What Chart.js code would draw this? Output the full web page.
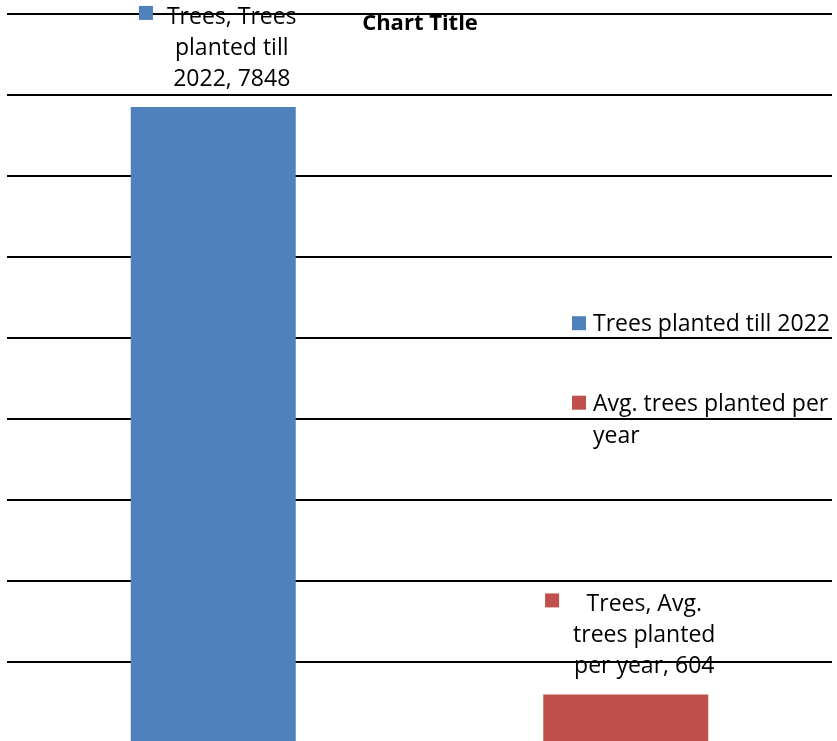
<!DOCTYPE html>
<html>
<head>
<meta charset="utf-8">
<script src="https://cdn.jsdelivr.net/npm/chart.js@4.4.1/dist/chart.umd.min.js"></script>
<style>
  html, body { margin: 0; padding: 0; overflow: hidden; background: #fff; }
  #wrap { position: relative; width: 837px; height: 760px; }
</style>
</head>
<body>
<div id="wrap"><canvas id="c"></canvas></div>
<script>
// Chart data
const categories = ['Trees'];
const seriesNames = ['Trees planted till 2022', 'Avg. trees planted per year'];
const treesPlantedTill2022 = [7848];
const avgTreesPlantedPerYear = [604];
const seriesColors = ['#4F81BD', '#C0504D'];
const chartTitle = 'Chart Title';
const yMin = 0, yMax = 9000, yStep = 1000;

// Text styling
const FONT_FAMILY = '"Open Sans", "Noto Sans", sans-serif';
const TEXT_SIZE = 23;
const LINE_H = 31;
const CAP_HALF = 8;        // half cap height, to place baselines by cap centre
const SWATCH = 14;

function wrapText(ctx, text, maxW) {
  const words = text.split(' ');
  const lines = [];
  let cur = '';
  for (const w of words) {
    const test = cur ? cur + ' ' + w : w;
    if (cur && ctx.measureText(test).width > maxW) {
      lines.push(cur);
      cur = w;
    } else {
      cur = test;
    }
  }
  if (cur) lines.push(cur);
  return lines;
}

// Value labels above each bar, with the series key in front
const barLabels = {
  id: 'barLabels',
  afterDatasetsDraw(chart) {
    const ctx = chart.ctx;
    ctx.save();
    ctx.font = `${TEXT_SIZE}px ${FONT_FAMILY}`;
    ctx.textAlign = 'center';
    ctx.textBaseline = 'alphabetic';
    chart.data.datasets.forEach((ds, i) => {
      const meta = chart.getDatasetMeta(i);
      meta.data.forEach((bar, j) => {
        const text = `${chart.data.labels[j]}, ${ds.label}, ${ds.data[j]}`;
        const lines = wrapText(ctx, text, 160);
        const maxW = Math.max(...lines.map(l => ctx.measureText(l).width));
        const cx = bar.x + 18.5;
        const lastCap = bar.y - 29;
        const firstCap = lastCap - (lines.length - 1) * LINE_H;
        ctx.fillStyle = ds.backgroundColor;
        ctx.fillRect(cx - maxW / 2 - 14 - SWATCH, firstCap - SWATCH / 2 - 3, SWATCH, SWATCH);
        ctx.fillStyle = '#000';
        lines.forEach((l, k) => ctx.fillText(l, cx, firstCap + k * LINE_H + CAP_HALF));
      });
    });
    ctx.restore();
  }
};

// Legend drawn inside the plot on the right, and the title on top
const sideLegend = {
  id: 'sideLegend',
  afterDraw(chart) {
    const ctx = chart.ctx;
    const area = chart.chartArea;
    ctx.save();
    ctx.font = `${TEXT_SIZE}px ${FONT_FAMILY}`;
    ctx.textAlign = 'left';
    ctx.textBaseline = 'alphabetic';
    const swX = 572, txtX = 593, gap = 48.5;
    const items = chart.data.datasets.map(ds => ({
      color: ds.backgroundColor,
      lines: wrapText(ctx, ds.label, 244)
    }));
    const totalH = items.reduce((s, it) => s + it.lines.length * LINE_H, 0) + gap * (items.length - 1);
    let y = (area.top + area.bottom) / 2 - totalH / 2;
    items.forEach(it => {
      const cap0 = y + LINE_H / 2;
      ctx.fillStyle = it.color;
      ctx.fillRect(swX, cap0 - SWATCH / 2, SWATCH, SWATCH);
      ctx.fillStyle = '#000';
      it.lines.forEach((l, k) => ctx.fillText(l, txtX, cap0 + k * (LINE_H + 1) + CAP_HALF));
      y += it.lines.length * LINE_H + gap;
    });

    ctx.font = `bold 22px ${FONT_FAMILY}`;
    ctx.textAlign = 'center';
    ctx.fillText(chartTitle, 420, 30);
    ctx.restore();
  }
};

new Chart(document.getElementById('c'), {
  type: 'bar',
  data: {
    labels: categories,
    datasets: [
      { label: seriesNames[0], data: treesPlantedTill2022, backgroundColor: seriesColors[0] },
      { label: seriesNames[1], data: avgTreesPlantedPerYear, backgroundColor: seriesColors[1] }
    ]
  },
  options: {
    responsive: true,
    maintainAspectRatio: false,
    animation: false,
    layout: { padding: { left: 7, right: 5, top: 13.5, bottom: 16.6 } },
    datasets: { bar: { categoryPercentage: 1, barPercentage: 0.4 } },
    plugins: {
      legend: { display: false },
      title: { display: false },
      tooltip: { enabled: false }
    },
    scales: {
      x: { display: false },
      y: {
        min: yMin, max: yMax,
        ticks: { display: false, stepSize: yStep },
        grid: { color: '#000', lineWidth: 2, drawTicks: false },
        border: { display: false }
      }
    }
  },
  plugins: [barLabels, sideLegend]
});
</script>
</body>
</html>
